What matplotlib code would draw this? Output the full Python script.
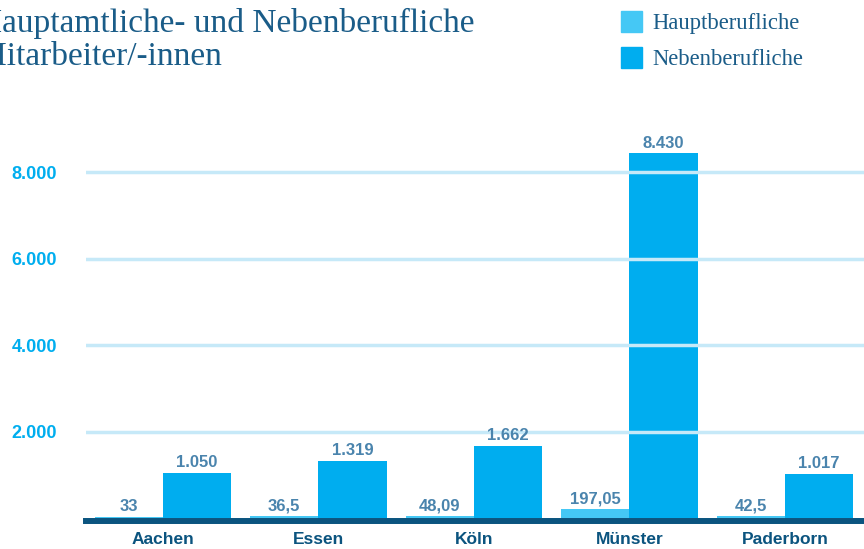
import matplotlib.pyplot as plt

# data
staedte = ['Aachen', 'Essen', 'Köln', 'Münster', 'Paderborn']
haupt = [33, 36.5, 48.09, 197.05, 42.5]
neben = [1050, 1319, 1662, 8430, 1017]
serien = ['Hauptberufliche', 'Nebenberufliche']
yticks = [2000, 4000, 6000, 8000]
ytick_labels = ['2.000', '4.000', '6.000', '8.000']

c_haupt = '#45c8f5'
c_neben = '#00adef'
c_dunkel = '#0b547f'
c_titel = '#1a5c88'
c_wert = '#4a84ad'
c_grid = '#c6e9f8'

W, H = 864, 549
fig = plt.figure(figsize=(W / 100, H / 100), dpi=100)
ax = fig.add_axes([86 / W, (H - 518) / H, (W - 86) / W, 418 / H])

# spines first (set_position resets the ticks)
for s in ['top', 'right', 'left']:
    ax.spines[s].set_visible(False)
ax.spines['bottom'].set_color(c_dunkel)
ax.spines['bottom'].set_linewidth(4.3)
ax.spines['bottom'].set_position(('outward', 2.2))
ax.spines['bottom'].set_zorder(4)


def fmt_haupt(v):
    return ('%g' % v).replace('.', ',')


def fmt_neben(v):
    return f'{v:,}'.replace(',', '.')


x = list(range(len(staedte)))
bw = 0.44
ax.bar([i - bw / 2 for i in x], haupt, bw, color=c_haupt, zorder=2)
ax.bar([i + bw / 2 for i in x], neben, bw, color=c_neben, zorder=2)

for i in x:
    ax.annotate(fmt_haupt(haupt[i]), (i - bw / 2, haupt[i]), xytext=(0, 2),
                textcoords='offset points', ha='center', va='bottom',
                fontsize=12, fontweight='bold', color=c_wert,
                family='Liberation Sans', zorder=5)
    ax.annotate(fmt_neben(neben[i]), (i + bw / 2, neben[i]), xytext=(0, 2),
                textcoords='offset points', ha='center', va='bottom',
                fontsize=12, fontweight='bold', color=c_wert,
                family='Liberation Sans', zorder=5)

# gridlines over the bars
for t in yticks:
    ax.axhline(t, color=c_grid, lw=2.5, zorder=3)

ax.set_xlim(-0.495, 4.508)
ax.set_ylim(0, 9665)
ax.set_xticks(x)
ax.set_xticklabels(staedte, fontsize=12.5, fontweight='bold', color=c_dunkel,
                   family='Liberation Sans')
ax.set_yticks(yticks)
ax.set_yticklabels(ytick_labels, fontsize=13, fontweight='bold', color='#00aeef',
                   family='Liberation Sans')
ax.tick_params(axis='x', length=0, pad=8)
ax.tick_params(axis='y', length=0, pad=21)

# title (cut at the left edge like the original)
fig.text(474 / W, 1 - 32 / H, 'Hauptamtliche- und Nebenberufliche', ha='right',
         va='baseline', fontsize=24, color=c_titel, family='Liberation Serif')
fig.text(222 / W, 1 - 65 / H, 'Mitarbeiter/-innen', ha='right',
         va='baseline', fontsize=24, color=c_titel, family='Liberation Serif')

# legend
for k, (name, col) in enumerate(zip(serien, [c_haupt, c_neben])):
    top = 11 + 36 * k
    fig.patches.append(plt.Rectangle((621 / W, 1 - (top + 21) / H), 21 / W, 21 / H,
                                     transform=fig.transFigure, color=col))
    fig.text(652 / W, 1 - (29 + 36 * k) / H, name, ha='left', va='baseline',
             fontsize=16.3, color=c_titel, family='Liberation Serif')

fig.savefig('out.png', dpi=100)
